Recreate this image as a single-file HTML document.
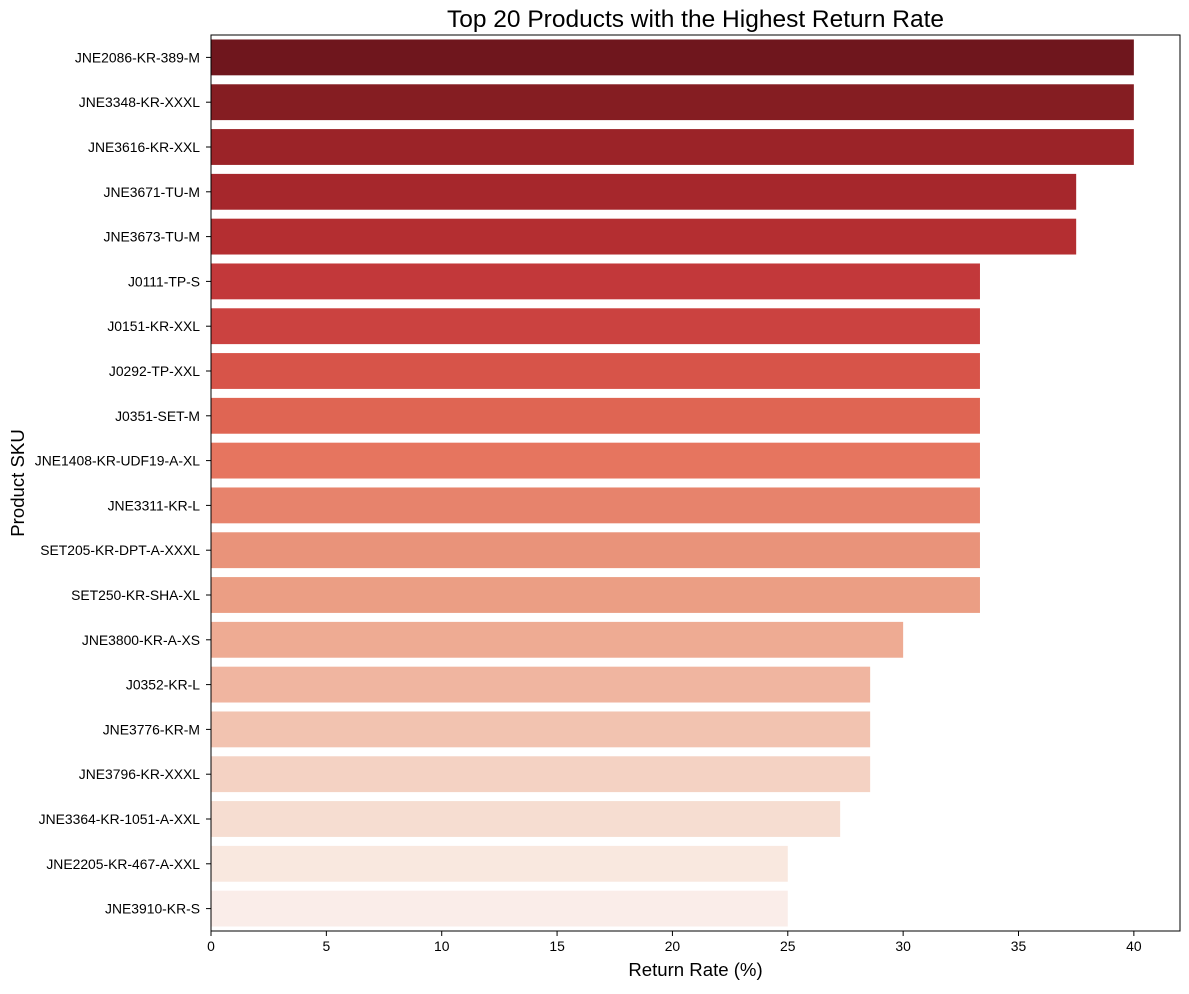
<!DOCTYPE html>
<html><head><meta charset="utf-8"><style>
body{margin:0;background:#fff;font-family:"Liberation Sans",sans-serif;}
</style></head><body>
<svg id="chart" width="1189" height="989" xmlns="http://www.w3.org/2000/svg"></svg>
<script>
const categories=["JNE2086-KR-389-M","JNE3348-KR-XXXL","JNE3616-KR-XXL","JNE3671-TU-M","JNE3673-TU-M","J0111-TP-S","J0151-KR-XXL","J0292-TP-XXL","J0351-SET-M","JNE1408-KR-UDF19-A-XL","JNE3311-KR-L","SET205-KR-DPT-A-XXXL","SET250-KR-SHA-XL","JNE3800-KR-A-XS","J0352-KR-L","JNE3776-KR-M","JNE3796-KR-XXXL","JNE3364-KR-1051-A-XXL","JNE2205-KR-467-A-XXL","JNE3910-KR-S"];
const values=[40,40,40,37.5,37.5,33.33,33.33,33.33,33.33,33.33,33.33,33.33,33.33,30,28.57,28.57,28.57,27.27,25,25];
const xTicks=[0,5,10,15,20,25,30,35,40];
const colors=["#6f161d","#851d22","#9b2328","#a6272c","#b42e31","#c2383a","#cb4240","#d75449","#df6553","#e6755f","#e7836c","#e9937a","#eb9e84","#eeab93","#f0b5a0","#f2c3b0","#f4d2c3","#f6ddd1","#f9e8df","#faede9"];
const L=211,R=1180,T=35,B=931,XMAX=42;
const svg=document.getElementById('chart');
const NS="http://www.w3.org/2000/svg";
const x=v=>L+v/XMAX*(R-L);
const band=(B-T)/categories.length;
const y=i=>T+i*band;
function mk(t,a,txt){const e=document.createElementNS(NS,t);for(const k in a)e.setAttribute(k,a[k]);if(txt!==undefined)e.textContent=txt;svg.appendChild(e);return e;}
categories.forEach((c,i)=>{
 const r=mk('rect',{x:L,y:y(i)+band*0.1,width:x(values[i])-L,height:band*0.8,fill:colors[i%colors.length]});
 
 
 const tk=mk('line',{x1:L-5,x2:L,y1:y(i)+band/2,y2:y(i)+band/2,stroke:'#000'});
 
 
 const tl=mk('text',{x:L-11,y:y(i)+band/2+5,'text-anchor':'end','font-size':13.9},c);
 
 
});
xTicks.forEach(v=>{
 const tk=mk('line',{x1:x(v),x2:x(v),y1:B,y2:B+5,stroke:'#000'});
 
 
 const tl=mk('text',{x:x(v),y:B+20,'text-anchor':'middle','font-size':13.9},String(v));
 
 
});
const fr=mk('rect',{x:L,y:T,width:R-L,height:B-T,fill:'none',stroke:'#000','stroke-width':1});


const ti=mk('text',{x:(L+R)/2,y:27,'text-anchor':'middle','font-size':24.5},'Top 20 Products with the Highest Return Rate');


const xt=mk('text',{x:(L+R)/2,y:976,'text-anchor':'middle','font-size':18.6},'Return Rate (%)');


const yt=mk('text',{x:24,y:(T+B)/2,'text-anchor':'middle','font-size':18.6,transform:'rotate(-90 24 '+((T+B)/2)+')'},'Product SKU');


</script>
</body></html>
